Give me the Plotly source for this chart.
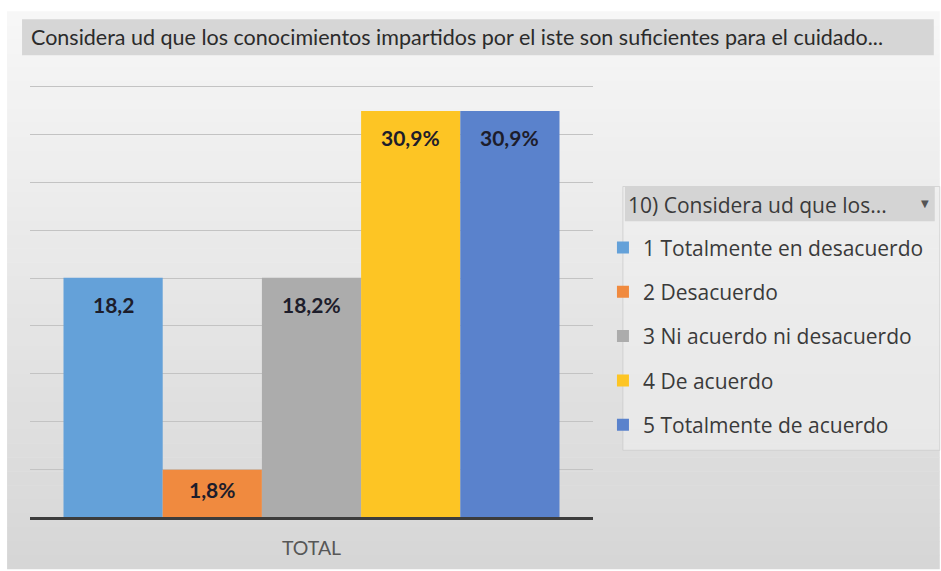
import plotly.graph_objects as go

# ---- data ----
categories = ["TOTAL"]
series_names = [
    "1 Totalmente en desacuerdo",
    "2 Desacuerdo",
    "3 Ni acuerdo ni desacuerdo",
    "4 De acuerdo",
    "5 Totalmente de acuerdo",
]
values = [18.2, 3.6, 18.2, 30.9, 30.9]          # bar heights (%) as drawn
value_labels = ["18,2", "1,8%", "18,2%", "30,9%", "30,9%"]
title_text = "Considera ud que los conocimientos impartidos por el iste son suficientes para el cuidado..."
legend_header = "10) Considera ud que los..."

# ---- style ----
colors = ["#64a1d9", "#f08a3f", "#acacac", "#fdc524", "#5a82cc"]
W, H = 941, 571
L, R, T, B = 30, 595, 83, 519          # plot area, page pixels
Y_STEP = 3.636
Y_MAX = 9 * Y_STEP * (B - T) / (B - 87)  # top gridline at y=87
BARGAP = 0.119


def px(xp):
    return (xp - L) / (R - L)


def py(yp):
    return (B - yp) / (B - T)


fig = go.Figure()
for i, (name, v, c) in enumerate(zip(series_names, values, colors)):
    fig.add_trace(go.Bar(
        x=categories, y=[v], name=name,
        marker=dict(color=c, line=dict(width=0)),
        legendgroup=f"g{i}",
        hoverinfo="skip",
    ))

shapes = []
# background gradient
top_c = (247, 247, 247)
bot_c = (214, 214, 214)
y0, y1 = 11, H
n = 40
for k in range(n):
    a = y0 + (y1 - y0) * k / n
    b = y0 + (y1 - y0) * (k + 1) / n
    t = (k + 0.5) / n
    col = tuple(round(top_c[j] + (bot_c[j] - top_c[j]) * t) for j in range(3))
    shapes.append(dict(type="rect", xref="paper", yref="paper",
                       x0=px(7), x1=px(W + 2), y0=py(b + 0.5), y1=py(a),
                       fillcolor="rgb(%d,%d,%d)" % col, line=dict(width=0),
                       layer="below"))
# title band
shapes.append(dict(type="rect", xref="paper", yref="paper",
                   x0=px(22), x1=px(937), y0=py(55), y1=py(19),
                   fillcolor="#d6d6d6", line=dict(width=0), layer="below"))
# legend box
shapes.append(dict(type="rect", xref="paper", yref="paper",
                   x0=px(625), x1=px(W + 2), y0=py(452), y1=py(187),
                   fillcolor="rgba(240,240,240,0.55)",
                   line=dict(width=1, color="rgba(205,205,205,0.8)"), layer="below"))
shapes.append(dict(type="rect", xref="paper", yref="paper",
                   x0=px(627), x1=px(938), y0=py(222), y1=py(187),
                   fillcolor="#d4d4d4", line=dict(width=0), layer="below"))

annotations = []
annotations.append(dict(text=title_text, xref="paper", yref="paper",
                        x=px(29), y=py(37), xanchor="left", yanchor="middle",
                        showarrow=False,
                        font=dict(family="Lato", size=21.5, color="#2b2b2b")))
annotations.append(dict(text=legend_header, xref="paper", yref="paper",
                        x=px(628), y=py(206), xanchor="left", yanchor="middle",
                        showarrow=False,
                        font=dict(family="Open Sans", size=21, color="#3a3a3a")))
annotations.append(dict(text="▼", xref="paper", yref="paper",
                        x=px(928), y=py(204), xanchor="center", yanchor="middle",
                        showarrow=False,
                        font=dict(family="DejaVu Sans", size=10, color="#555555")))

bar_w = (1 - BARGAP) / len(values)
plot_h = B - T
for i, (v, lab) in enumerate(zip(values, value_labels)):
    bar_px = v / Y_MAX * plot_h
    shift = min(27, 0.42 * bar_px)
    annotations.append(dict(text="<b>%s</b>" % lab, xref="x", yref="y",
                            x=(i - (len(values) - 1) / 2) * bar_w, y=v,
                            yshift=-shift, xanchor="center", yanchor="middle",
                            showarrow=False,
                            font=dict(family="Lato", size=21, color="#1d1d2b")))

fig.update_layout(
    width=W, height=H,
    margin=dict(l=L, r=W - R, t=T, b=H - B, pad=0),
    paper_bgcolor="white",
    plot_bgcolor="rgba(0,0,0,0)",
    barmode="group", bargap=BARGAP, bargroupgap=0,
    shapes=shapes,
    annotations=annotations,
    showlegend=True,
    legend=dict(
        x=px(605), y=py(228), xanchor="left", yanchor="top",
        bgcolor="rgba(0,0,0,0)", borderwidth=0,
        font=dict(family="Open Sans", size=21, color="#3a3a3a"),
        tracegroupgap=14, itemwidth=30,
        traceorder="grouped",
    ),
    xaxis=dict(
        showline=True, linecolor="#3c3c3c", linewidth=3,
        showgrid=False, ticks="", ticklabelstandoff=12,
        tickfont=dict(family="Lato", size=19.5, color="#575757"),
    ),
    yaxis=dict(
        range=[0, Y_MAX], dtick=Y_STEP, tick0=0,
        showticklabels=False, ticks="",
        showgrid=True, gridcolor="#c3c3c3", gridwidth=1,
        zeroline=False, showline=False,
    ),
)

fig.write_html(
    "out.html",
    config={"displayModeBar": False},
    post_script="document.body.style.margin='0';document.body.style.overflow='hidden';",
)
